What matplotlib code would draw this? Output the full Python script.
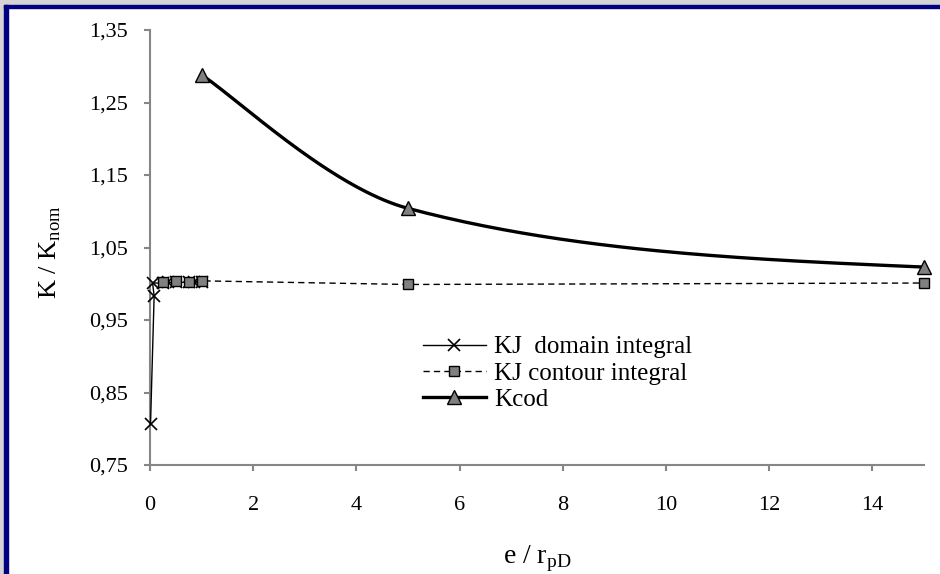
import numpy as np
import matplotlib
matplotlib.use('Agg')
import matplotlib.pyplot as plt
from matplotlib.patches import Rectangle
from matplotlib.ticker import FuncFormatter

plt.rcParams['font.family'] = ['Liberation Serif', 'DejaVu Serif']
plt.rcParams['mathtext.fontset'] = 'custom'
plt.rcParams['mathtext.rm'] = 'Liberation Serif'

# data
kj_dom_x = [0.01, 0.08, 0.05, 0.25, 0.35, 0.5, 0.75, 0.85, 1.0]
kj_dom_y = [0.807, 0.983, 1.001, 1.001, 1.002, 1.002, 1.002, 1.002, 1.002]

kj_con_x = [0.25, 0.5, 0.75, 1.0, 5, 15]
kj_con_y = [1.002, 1.004, 1.003, 1.004, 0.999, 1.001]

kcod_x = [1, 5, 15]
kcod_y = [1.288, 1.104, 1.023]

y_ticks = [0.75, 0.85, 0.95, 1.05, 1.15, 1.25, 1.35]
x_ticks = [0, 2, 4, 6, 8, 10, 12, 14]

W, H = 940, 574
fig = plt.figure(figsize=(W / 100, H / 100), dpi=100)
fig.patch.set_facecolor('white')

# frame around the chart (only top/left visible in the crop)
gray = '#d4d4d4'
navy = '#000080'
fig.patches.append(Rectangle((0, 1 - 5 / H), 1, 5 / H, transform=fig.transFigure, color=gray, zorder=0))
fig.patches.append(Rectangle((0, 0), 4 / W, 1, transform=fig.transFigure, color=gray, zorder=0))
fig.patches.append(Rectangle((4 / W, 1 - 8 / H), 1, 3 / H, transform=fig.transFigure, color=navy, zorder=1))
fig.patches.append(Rectangle((4 / W, 0), 4 / W, 1 - 5 / H, transform=fig.transFigure, color=navy, zorder=1))

ax = fig.add_axes([150 / W, 1 - 465 / H, 774 / W, 435 / H])
ax.set_xlim(0, 15)
ax.set_ylim(0.75, 1.35)


def excel_smooth(xs, ys, n=80):
    # bezier smoothing done in pixel space, like a spreadsheet "smoothed line"
    P = ax.transData.transform(np.column_stack([xs, ys]))
    m = len(P)
    c_out = [None] * m
    c_in = [None] * m
    for j in range(1, m - 1):
        t = P[j + 1] - P[j - 1]
        dp = np.hypot(*(P[j] - P[j - 1]))
        dn = np.hypot(*(P[j + 1] - P[j]))
        c_in[j] = P[j] - t * dp / (dp + dn) / 3
        c_out[j] = P[j] + t * dn / (dp + dn) / 3
    c_out[0] = P[0] + (P[1] - P[0]) / 6
    c_in[m - 1] = P[m - 1] - (P[m - 1] - c_out[m - 2]) / 2
    pts = []
    s = np.linspace(0, 1, n)[:, None]
    for i in range(m - 1):
        a, b, c, d = P[i], c_out[i], c_in[i + 1], P[i + 1]
        seg = (1 - s) ** 3 * a + 3 * (1 - s) ** 2 * s * b + 3 * (1 - s) * s ** 2 * c + s ** 3 * d
        pts.append(seg)
    pts = np.vstack(pts)
    out = ax.transData.inverted().transform(pts)
    return out[:, 0], out[:, 1]


ax.plot(kj_dom_x, kj_dom_y, color='black', lw=1.0, marker='x', ms=9, mew=1.2,
        label='KJ  domain integral', zorder=3, clip_on=False)
ax.plot(kj_con_x, kj_con_y, color='black', lw=1.0, dashes=(4.5, 3), marker='s', ms=7,
        mfc='#808080', mec='black', mew=1.0, label='KJ contour integral', zorder=4, clip_on=False)

sx, sy = excel_smooth(kcod_x, kcod_y)
ax.plot(sx, sy, color='black', lw=2.4, zorder=5, clip_on=False)
ax.plot(kcod_x, kcod_y, ls='none', marker='^', ms=9.5, mfc='#808080', mec='black', mew=1.0,
        zorder=6, clip_on=False)
# legend proxy for the smoothed series
ax.plot([], [], color='black', lw=2.4, marker='^', ms=9.5, mfc='#808080', mec='black', mew=1.0, label='Kcod')

for side in ['top', 'right']:
    ax.spines[side].set_visible(False)
for side in ['left', 'bottom']:
    ax.spines[side].set_color('#868686')
    ax.spines[side].set_linewidth(1.5)

ax.set_yticks(y_ticks)
ax.set_xticks(x_ticks)
ax.yaxis.set_major_formatter(FuncFormatter(lambda v, p: f'{v:.2f}'.replace('.', ',')))
ax.tick_params(axis='both', direction='out', length=4, width=1.5, color='#868686',
               labelsize=16, labelcolor='black')
ax.tick_params(axis='y', pad=12)
ax.tick_params(axis='x', pad=18)

ax.set_xlabel('e / r$_\\mathregular{pD}$', fontsize=20)
ax.set_ylabel('K / K$_\\mathregular{nom}$', fontsize=19)
ax.xaxis.set_label_coords(0.5, -0.18)
ax.yaxis.set_label_coords(-0.112, 0.49)

ax.legend(loc='upper left', bbox_to_anchor=(423 / W, 1 - 336 / H), bbox_transform=fig.transFigure,
          frameon=False, fontsize=18, handlelength=2.5, handletextpad=0.36, labelspacing=0.15,
          borderpad=0, borderaxespad=0, numpoints=1)

fig.savefig('out.png', dpi=100, facecolor='white')
